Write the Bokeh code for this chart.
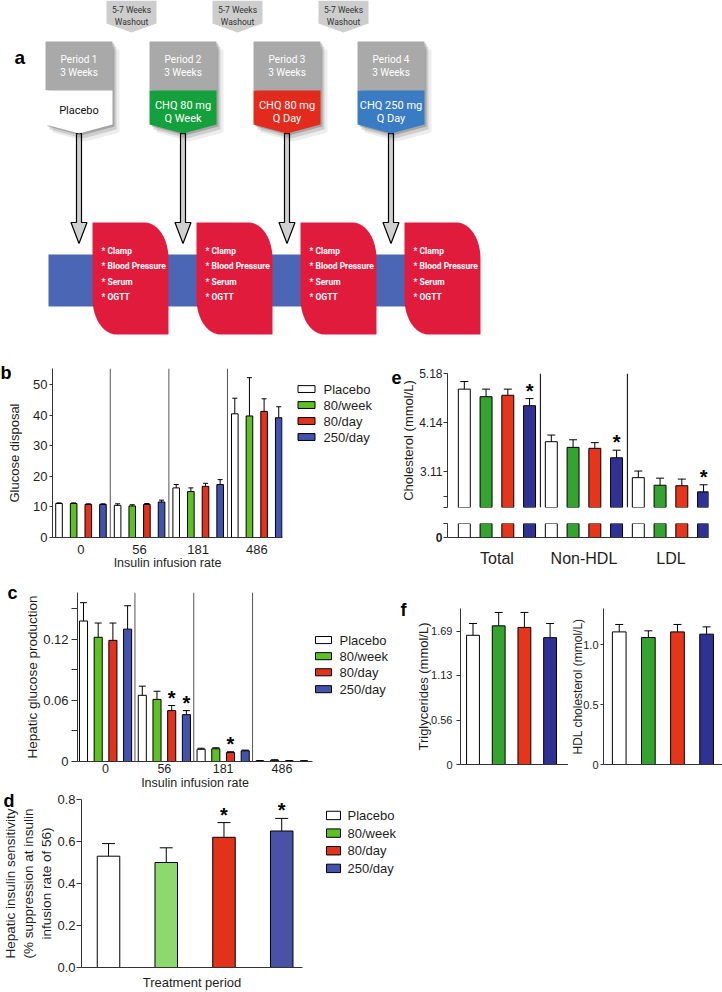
import math
from bokeh.plotting import figure
from bokeh.models import Range1d, Span, FixedTicker, Whisker, TeeHead, ColumnDataSource, NumeralTickFormatter
from bokeh.layouts import row, column
from bokeh.embed import file_html
from bokeh.resources import INLINE
from bokeh.core.properties import value

# ---------------- data ----------------
treatments = ["Placebo", "80/week", "80/day", "250/day"]
insulin_rates = ["0", "56", "181", "486"]

# (b) glucose disposal by insulin infusion rate
gd_placebo = [11.1, 10.5, 16.2, 40.4]
gd_80week = [11.1, 10.3, 15.0, 39.7]
gd_80day = [10.8, 10.8, 16.7, 41.2]
gd_250day = [10.8, 11.6, 17.3, 39.1]
gd_err_placebo = [0.2, 0.5, 1.1, 5.1]
gd_err_80week = [0.2, 0.4, 1.2, 12.5]
gd_err_80day = [0.2, 0.3, 1.0, 4.1]
gd_err_250day = [0.2, 0.6, 1.6, 3.6]
gd_ticks = [0, 10, 20, 30, 40, 50]

# (c) hepatic glucose production
hgp_placebo = [0.138, 0.065, 0.0120, 0.0006]
hgp_80week = [0.122, 0.061, 0.0125, 0.0012]
hgp_80day = [0.119, 0.050, 0.0088, 0.0006]
hgp_250day = [0.130, 0.046, 0.0105, 0.0005]
hgp_err_placebo = [0.018, 0.009, 0.0010, 0.0003]
hgp_err_80week = [0.014, 0.008, 0.0010, 0.0005]
hgp_err_80day = [0.017, 0.005, 0.0008, 0.0003]
hgp_err_250day = [0.023, 0.004, 0.0007, 0.0003]
hgp_sig = [(1, 2), (1, 3), (2, 2)]          # (rate index, treatment index)
hgp_ticks = [0, 0.03, 0.06, 0.09, 0.12, 0.15]
hgp_tick_labels = ["0", "", "0.06", "", "0.12", ""]

# (d) hepatic insulin sensitivity
his_mean = [0.53, 0.50, 0.62, 0.65]
his_err = [0.06, 0.07, 0.07, 0.06]
his_sig = [False, False, True, True]
his_ticks = [0.0, 0.2, 0.4, 0.6, 0.8]

# (e) cholesterol
lipid_classes = ["Total", "Non-HDL", "LDL"]
chol_placebo = [4.85, 3.74, 2.98]
chol_80week = [4.69, 3.62, 2.82]
chol_80day = [4.72, 3.60, 2.81]
chol_250day = [4.50, 3.40, 2.68]
chol_err_placebo = [0.16, 0.14, 0.14]
chol_err_80week = [0.16, 0.16, 0.15]
chol_err_80day = [0.13, 0.12, 0.14]
chol_err_250day = [0.15, 0.16, 0.15]
chol_sig = [(0, 3), (1, 3), (2, 3)]
chol_ticks = [3.11, 4.14, 5.18]
chol_minor_ticks = [2.35, 2.59]

# (f) triglycerides and HDL
tg_mean = [1.64, 1.76, 1.74, 1.61]
tg_err = [0.15, 0.17, 0.19, 0.18]
tg_ticks = [0, 0.56, 1.13, 1.69]
hdl_mean = [1.105, 1.058, 1.105, 1.086]
hdl_err = [0.062, 0.056, 0.062, 0.061]
hdl_ticks = [0, 0.5, 1.0]

# (a) study design
periods = ["Period 1", "Period 2", "Period 3", "Period 4"]
period_length = ["3 Weeks", "3 Weeks", "3 Weeks", "3 Weeks"]
period_treatment = [["Placebo"], ["CHQ 80 mg", "Q Week"], ["CHQ 80 mg", "Q Day"], ["CHQ 250 mg", "Q Day"]]
washout_text = ["5-7 Weeks", "Washout"]
measures = ["* Clamp", "* Blood Pressure", "* Serum", "* OGTT"]
panel_letters = ["b", "c", "d", "e", "f"]

# ---------------- styles ----------------
FONT = "Liberation Sans"
DFONT = "Roboto"
AX = "#333333"
TXT = "#1e1e1e"
bc_colors = ["#ffffff", "#5fbf26", "#e2321e", "#4353ad"]
d_colors = ["#ffffff", "#8ed86e", "#e3321c", "#4a52a8"]
ef_colors = ["#ffffff", "#35a32f", "#e5361b", "#2f3193"]
period_colors = ["#ffffff", "#14a03c", "#e32b1d", "#3a7cc4"]
period_text_colors = ["#111111", "white", "white", "white"]


def blank(p):
    p.axis.visible = False
    p.xgrid.visible = False
    p.ygrid.visible = False
    p.outline_line_color = None


def chart(box, frame, xr, yr):
    x0, y0, x1, y1 = box
    fl, ft, fr, fb = frame
    p = figure(width=x1 - x0, height=y1 - y0, x_range=Range1d(*xr), y_range=Range1d(*yr),
               output_backend="svg", toolbar_location=None,
               min_border_left=fl - x0, min_border_right=x1 - fr,
               min_border_top=ft - y0, min_border_bottom=y1 - fb)
    p.xgrid.visible = False
    p.ygrid.visible = False
    p.outline_line_color = None
    p.background_fill_color = "white"
    p.border_fill_color = "white"
    for ax in p.axis:
        ax.axis_line_color = AX
        ax.major_tick_line_color = AX
        ax.minor_tick_line_color = None
        ax.major_tick_in = 0
        ax.major_label_text_font = FONT
        ax.major_label_text_color = TXT
        ax.axis_label_text_font = FONT
        ax.axis_label_text_font_style = "normal"
        ax.axis_label_text_color = TXT
    return p


def grouped_bars(p, means, errs, colors, width, cap, whiskers=True):
    nt = len(means)
    ng = len(means[0])
    x, top, up, col = [], [], [], []
    for g in range(ng):
        for t in range(nt):
            x.append(g * nt + t)
            top.append(means[t][g])
            up.append(means[t][g] + errs[t][g])
            col.append(colors[t])
    src = ColumnDataSource(dict(x=x, top=top, up=up, color=col))
    p.vbar(x="x", top="top", bottom=0, width=width, source=src,
           fill_color="color", line_color="black", line_width=1)
    if whiskers:
        p.add_layout(Whisker(source=src, base="x", upper="up", lower="top", dimension="height",
                             line_color="black", line_width=1, level="glyph",
                             upper_head=TeeHead(size=cap, line_color="black", line_width=1),
                             lower_head=None))


def stars(p, pairs, means, errs, off=-8):
    nt = len(means)
    xs = [g * nt + t for g, t in pairs]
    ys = [means[t][g] + errs[t][g] for g, t in pairs]
    p.text(x=xs, y=ys, text=["*"] * len(xs), text_align="center", text_baseline="alphabetic",
           text_font=value(FONT), text_font_style="bold", text_font_size="20px",
           text_color="black", y_offset=off)


def legend_fig(box, box_cx, box_w, box_h, row_ys, text_x, colors):
    x0, y0, x1, y1 = box
    p = figure(width=x1 - x0, height=y1 - y0, x_range=Range1d(x0, x1), y_range=Range1d(y1, y0),
               output_backend="svg", toolbar_location=None, min_border=0)
    blank(p)
    p.background_fill_color = "white"
    p.border_fill_color = "white"
    p.rect(x=[box_cx] * len(row_ys), y=row_ys, width=box_w, height=box_h,
           fill_color=colors, line_color="black", line_width=1)
    p.text(x=[text_x] * len(row_ys), y=row_ys, text=treatments, text_baseline="middle",
           text_align="left", text_font=value(FONT), text_font_size="13px", text_color=TXT)
    return p


W, H = 722, 992
COL = 398  # split between left and right chart columns

# ---------------- panel a (study design) ----------------
pa = figure(width=W, height=355, x_range=Range1d(0, W), y_range=Range1d(355, 0),
            output_backend="svg", toolbar_location=None, min_border=0)
blank(pa)
pa.background_fill_color = "white"
pa.border_fill_color = "white"

P_LEFT0, P_STEP, P_W = 45, 104, 67
G_TOP, G_BOT, C_BOT, TIP = 41, 90, 124, 133
p_left = [P_LEFT0 + P_STEP * i for i in range(len(periods))]
p_ctr = [l + P_W / 2 for l in p_left]

# washout tags
W_C0, W_STEP, W_HW = 131, 106, 25
w_ctr = [W_C0 + W_STEP * i for i in range(len(periods) - 1)]
pa.patches(xs=[[c - W_HW, c + W_HW, c + W_HW, c, c - W_HW] for c in w_ctr],
           ys=[[0, 0, 23, 32, 23] for c in w_ctr], fill_color="#cdcdcd", line_color=None)
for j, t in enumerate(washout_text):
    pa.text(x=w_ctr, y=[9 + 12 * j] * len(w_ctr), text=[t] * len(w_ctr), text_align="center",
            text_baseline="middle", text_font=value(DFONT), text_font_size="8.5px", text_color="#333333")

# arrows from the periods down to the measurements
ARW_Y0, ARW_HEAD, ARW_TIP, SH, HH = TIP, 222, 243, 2.5, 8
pa.patches(xs=[[c - SH, c + SH, c + SH, c + HH, c, c - HH, c - SH] for c in p_ctr],
           ys=[[ARW_Y0, ARW_Y0, ARW_HEAD, ARW_HEAD, ARW_TIP, ARW_HEAD, ARW_HEAD] for c in p_ctr],
           fill_color="#d0d0d0", line_color="black", line_width=1.2)

# drop shadows
for dx, dy, a in [(2, 2, 0.20), (4, 5, 0.13), (7, 8, 0.07)]:
    pa.patches(xs=[[l + dx, l + P_W + dx, l + P_W + dx, c + dx, l + dx] for l, c in zip(p_left, p_ctr)],
               ys=[[G_TOP + dy, G_TOP + dy, C_BOT + dy, TIP + dy, C_BOT + dy] for l in p_left],
               fill_color="black", fill_alpha=a, line_color=None)
# grey headers
pa.quad(left=p_left, right=[l + P_W for l in p_left], top=[G_TOP] * 4, bottom=[G_BOT] * 4,
        fill_color="#a9a9a9", line_color=None)
# coloured treatment tags
pa.patches(xs=[[l, l + P_W, l + P_W, c, l] for l, c in zip(p_left, p_ctr)],
           ys=[[G_BOT, G_BOT, C_BOT, TIP, C_BOT] for l in p_left],
           fill_color=period_colors, line_color=None)
pa.text(x=p_ctr, y=[59] * 4, text=periods, text_align="center", text_baseline="middle",
        text_font=value(DFONT), text_font_size="10px", text_color="white")
pa.text(x=p_ctr, y=[72] * 4, text=period_length, text_align="center", text_baseline="middle",
        text_font=value(DFONT), text_font_size="10px", text_color="white")
for i, lines in enumerate(period_treatment):
    n = len(lines)
    ys = [110] if n == 1 else [105, 118]
    pa.text(x=[p_ctr[i]] * n, y=ys, text=lines, text_align="center", text_baseline="middle",
            text_font=value(DFONT), text_font_size="11px", text_color=period_text_colors[i])

# timeline band
pa.quad(left=[48], right=[470], top=[254], bottom=[306], fill_color="#4a66b4", line_color=None)

# measurement cards
R_LEFT0, R_W, R_TOP, R_BOT, RX, RY = 92, 76, 222, 334, 24, 36


def card(l):
    r = l + R_W
    xs, ys = [l, r - RX], [R_TOP, R_TOP]
    for k in range(13):
        th = math.pi / 2 - k * (math.pi / 2) / 12
        xs.append(r - RX + RX * math.cos(th))
        ys.append(R_TOP + RY - RY * math.sin(th))
    xs += [r, l + RX]
    ys += [R_BOT, R_BOT]
    for k in range(13):
        th = 3 * math.pi / 2 - k * (math.pi / 2) / 12
        xs.append(l + RX + RX * math.cos(th))
        ys.append(R_BOT - RY - RY * math.sin(th))
    return xs, ys


r_left = [R_LEFT0 + P_STEP * i for i in range(len(periods))]
cards = [card(l) for l in r_left]
pa.patches(xs=[c[0] for c in cards], ys=[c[1] for c in cards], fill_color="#e01b3c", line_color=None)
for j, m in enumerate(measures):
    pa.text(x=[l + 9 for l in r_left], y=[250 + 15.5 * j] * 4, text=[m] * 4, text_align="left",
            text_baseline="middle", text_font=value(DFONT), text_font_style="bold",
            text_font_size="8.5px", text_color="white")
pa.text(x=[14], y=[57], text=["a"], text_font=value(FONT), text_font_style="bold",
        text_font_size="19px", text_baseline="alphabetic", text_align="left")

# ---------------- panel b ----------------
pb = chart((0, 355, 292, 577), (52, 368, 282, 537), (-0.444, 15.256), (0, 55.2))
grouped_bars(pb, [gd_placebo, gd_80week, gd_80day, gd_250day],
             [gd_err_placebo, gd_err_80week, gd_err_80day, gd_err_250day], bc_colors, 0.45, 5)
for s in [3.5, 7.5, 11.5]:
    pb.add_layout(Span(location=s, dimension="height", line_color="#555555", line_width=1))
pb.yaxis.ticker = FixedTicker(ticks=gd_ticks)
pb.yaxis.major_tick_out = 3
pb.yaxis.major_label_standoff = 2
pb.yaxis.major_label_text_font_size = "13px"
pb.yaxis.axis_label = "Glucose disposal"
pb.yaxis.axis_label_text_font_size = "13px"
pb.yaxis.axis_label_standoff = 8
pb.xaxis.ticker = FixedTicker(ticks=[1.5, 5.5, 9.5, 13.5])
pb.xaxis.major_label_overrides = dict(zip([1.5, 5.5, 9.5, 13.5], insulin_rates))
pb.xaxis.major_tick_out = 0
pb.xaxis.major_label_standoff = 7
pb.xaxis.major_label_text_font_size = "13px"
pb.xaxis.axis_label = "Insulin infusion rate"
pb.xaxis.axis_label_text_font_size = "12.5px"
pb.xaxis.axis_label_standoff = -1
lb = legend_fig((292, 355, COL, 577), 306, 17, 9, [382, 403, 424, 445], 323, bc_colors)

# ---------------- panel c ----------------
pc = chart((0, 577, 314, 792), (77, 592, 312, 762), (-0.408, 15.578), (0, 0.166))
hgp_means = [hgp_placebo, hgp_80week, hgp_80day, hgp_250day]
hgp_errs = [hgp_err_placebo, hgp_err_80week, hgp_err_80day, hgp_err_250day]
grouped_bars(pc, hgp_means, hgp_errs, bc_colors, 0.55, 7)
stars(pc, hgp_sig, hgp_means, hgp_errs)
for s in [3.5, 7.5, 11.5]:
    pc.add_layout(Span(location=s, dimension="height", line_color="#555555", line_width=1))
pc.yaxis.ticker = FixedTicker(ticks=hgp_ticks)
pc.yaxis.major_label_overrides = dict(zip(hgp_ticks, hgp_tick_labels))
pc.yaxis.major_tick_out = 6
pc.yaxis.major_label_standoff = 3
pc.yaxis.major_label_text_font_size = "13px"
pc.yaxis.axis_label = "Hepatic glucose production"
pc.yaxis.axis_label_text_font_size = "13.5px"
pc.yaxis.axis_label_standoff = 0
pc.xaxis.ticker = FixedTicker(ticks=[1.5, 5.5, 9.5, 13.5])
pc.xaxis.major_label_overrides = dict(zip([1.5, 5.5, 9.5, 13.5], insulin_rates))
pc.xaxis.major_tick_out = 0
pc.xaxis.major_label_standoff = 2
pc.xaxis.major_label_text_font_size = "12.5px"
pc.xaxis.axis_label = "Insulin infusion rate"
pc.xaxis.axis_label_text_font_size = "12.5px"
pc.xaxis.axis_label_standoff = 0
lc = legend_fig((314, 577, COL, 792), 323, 16, 9, [637.5, 658, 678.5, 700], 339, bc_colors)

# ---------------- panel d ----------------
pd_ = chart((0, 792, 318, 992), (77, 799, 302, 968), (-0.468, 3.36), (0, 0.8))
grouped_bars(pd_, [[v] for v in his_mean], [[e] for e in his_err], d_colors, 0.39, 13)
stars(pd_, [(0, t) for t, s in enumerate(his_sig) if s], [[v] for v in his_mean], [[e] for e in his_err])
pd_.yaxis.ticker = FixedTicker(ticks=his_ticks)
pd_.yaxis.formatter = NumeralTickFormatter(format="0.0")
pd_.yaxis.major_tick_out = 5
pd_.yaxis.major_label_standoff = 1
pd_.yaxis.major_label_text_font_size = "13px"
pd_.yaxis.axis_label = "Hepatic insulin sensitivity\n(% suppression at insulin\ninfusion rate of 56)"
pd_.yaxis.axis_label_text_font_size = "13.5px"
pd_.yaxis.axis_label_standoff = 0
pd_.xaxis.ticker = FixedTicker(ticks=[])
pd_.xaxis.major_tick_out = 0
pd_.xaxis.major_label_standoff = 0
pd_.xaxis.axis_label = "Treatment period"
pd_.xaxis.axis_label_text_font_size = "13px"
pd_.xaxis.axis_label_standoff = 7
ld = legend_fig((318, 792, COL, 992), 333, 14, 10, [811, 832, 853, 874], 347, bc_colors)

# ---------------- panel e (broken axis) ----------------
chol_means = [chol_placebo, chol_80week, chol_80day, chol_250day]
chol_errs = [chol_err_placebo, chol_err_80week, chol_err_80day, chol_err_250day]
EXR = (-0.773, 11.227)
pe1 = chart((COL, 355, 722, 515), (444, 373, 708, 507), EXR, (2.35, 5.18))
grouped_bars(pe1, chol_means, chol_errs, ef_colors, 0.55, 8)
stars(pe1, chol_sig, chol_means, chol_errs)
for s in [3.5, 7.5]:
    pe1.add_layout(Span(location=s, dimension="height", line_color="#222222", line_width=1.2))
pe1.xaxis.visible = False
e_ticks = chol_minor_ticks + chol_ticks
pe1.yaxis.ticker = FixedTicker(ticks=e_ticks)
pe1.yaxis.major_label_overrides = {t: ("" if t in chol_minor_ticks else "%.2f" % t) for t in e_ticks}
pe1.yaxis.major_tick_out = 4
pe1.yaxis.major_label_standoff = 1
pe1.yaxis.major_label_text_font_size = "12px"
pe1.yaxis.axis_label = "Cholesterol (mmol/L)"
pe1.yaxis.axis_label_text_font_size = "13px"
pe1.yaxis.axis_label_standoff = 0

pe2 = chart((COL, 515, 722, 595), (444, 523, 708, 537), EXR, (0, 0.3))
grouped_bars(pe2, chol_means, chol_errs, ef_colors, 0.55, 8, whiskers=False)
pe2.yaxis.ticker = FixedTicker(ticks=[0, 0.3])
pe2.yaxis.major_label_overrides = {0: "0", 0.3: ""}
pe2.yaxis.major_tick_out = 4
pe2.yaxis.major_label_standoff = 1
pe2.yaxis.major_label_text_font_size = "12px"
pe2.yaxis.major_label_text_font_style = "bold"
pe2.xaxis.ticker = FixedTicker(ticks=[1.5, 5.5, 9.5])
pe2.xaxis.major_label_overrides = dict(zip([1.5, 5.5, 9.5], lipid_classes))
pe2.xaxis.major_tick_out = 0
pe2.xaxis.major_label_standoff = 12
pe2.xaxis.major_label_text_font_size = "16px"

# ---------------- panel f ----------------
pf1 = chart((COL, 595, 568, 992), (460, 605, 568, 764), (-0.486, 3.716), (0, 1.98))
grouped_bars(pf1, [[v] for v in tg_mean], [[e] for e in tg_err], ef_colors, 0.5, 8)
pf1.yaxis.ticker = FixedTicker(ticks=tg_ticks)
pf1.yaxis.major_label_overrides = {t: ("0" if t == 0 else "%.2f" % t) for t in tg_ticks}
pf1.yaxis.major_tick_out = 4
pf1.yaxis.major_label_standoff = 4
pf1.yaxis.major_label_text_font_size = "11px"
pf1.yaxis.axis_label = "Triglycerides (mmol/L)"
pf1.yaxis.axis_label_text_font_size = "13px"
pf1.yaxis.axis_label_standoff = -3
pf1.xaxis.ticker = FixedTicker(ticks=[])
pf1.xaxis.major_tick_out = 0
pf1.xaxis.major_label_standoff = 0

pf2 = chart((568, 595, 722, 992), (597, 608, 722, 764), (-0.54, 3.546), (0, 1.3))
grouped_bars(pf2, [[v] for v in hdl_mean], [[e] for e in hdl_err], ef_colors, 0.47, 8)
pf2.yaxis.ticker = FixedTicker(ticks=hdl_ticks)
pf2.yaxis.major_label_overrides = {0: "0", 0.5: "0.5", 1.0: "1.0"}
pf2.yaxis.major_tick_out = 3
pf2.yaxis.major_label_standoff = 2
pf2.yaxis.major_label_text_font_size = "11px"
pf2.yaxis.axis_label = "HDL cholesterol (mmol/L)"
pf2.yaxis.axis_label_text_font_size = "12px"
pf2.yaxis.axis_label_standoff = -5
pf2.xaxis.ticker = FixedTicker(ticks=[])
pf2.xaxis.major_tick_out = 0
pf2.xaxis.major_label_standoff = 0

# ---------------- transparent overlay with the panel letters ----------------
ov = figure(width=W, height=H, x_range=Range1d(0, W), y_range=Range1d(H, 0),
            output_backend="svg", toolbar_location=None, min_border=0, margin=(-H, 0, 0, 0))
blank(ov)
ov.background_fill_color = None
ov.border_fill_color = None
ov.text(x=[0, 7, 3, 391, 400], y=[372, 592, 800, 377, 609], text=panel_letters,
        text_font=value(FONT), text_font_style="bold", text_font_size="18px",
        text_baseline="alphabetic", text_align="left", text_color="black")

layout = column(
    pa,
    row(
        column(row(pb, lb), row(pc, lc), row(pd_, ld)),
        column(pe1, pe2, row(pf1, pf2)),
    ),
    ov,
)

open("out.html", "w").write(file_html(layout, INLINE))
